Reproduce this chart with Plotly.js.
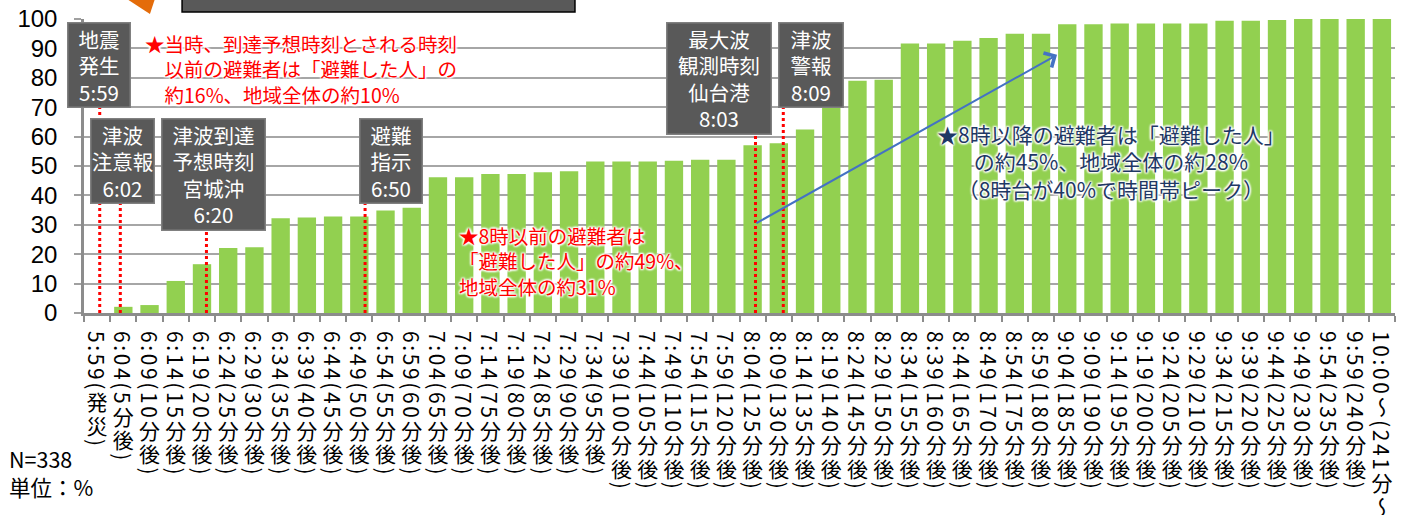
<!DOCTYPE html>
<html>
<head>
<meta charset="utf-8">
<script src="https://cdn.plot.ly/plotly-3.0.1.min.js"></script>
<style>
  html, body { margin: 0; padding: 0; background: #fff; }
  #chart { width: 1410px; height: 515px; }
</style>
</head>
<body>
<div id="chart"></div>
<script>
// ---- data ----
const times = ["5:59","6:04","6:09","6:14","6:19","6:24","6:29","6:34","6:39","6:44","6:49","6:54","6:59",
  "7:04","7:09","7:14","7:19","7:24","7:29","7:34","7:39","7:44","7:49","7:54","7:59",
  "8:04","8:09","8:14","8:19","8:24","8:29","8:34","8:39","8:44","8:49","8:54","8:59",
  "9:04","9:09","9:14","9:19","9:24","9:29","9:34","9:39","9:44","9:49","9:54","9:59","10:00～"];
const elapsed = ["発災","5分後","10分後","15分後","20分後","25分後","30分後","35分後","40分後","45分後","50分後","55分後","60分後",
  "65分後","70分後","75分後","80分後","85分後","90分後","95分後","100分後","105分後","110分後","115分後","120分後",
  "125分後","130分後","135分後","140分後","145分後","150分後","155分後","160分後","165分後","170分後","175分後","180分後",
  "185分後","190分後","195分後","200分後","205分後","210分後","215分後","220分後","225分後","230分後","235分後","240分後","241分～"];
const cumulative = [0, 2.1, 2.7, 10.9, 16.6, 22.1, 22.4, 32.2, 32.5, 32.8, 32.8, 34.9, 35.8,
  46.2, 46.2, 47.3, 47.3, 47.9, 48.2, 51.5, 51.5, 51.5, 51.8, 52.1, 52.1,
  57.1, 57.7, 62.4, 70.7, 79.0, 79.3, 91.7, 91.7, 92.6, 93.5, 95.0, 95.0,
  98.2, 98.2, 98.5, 98.5, 98.5, 98.5, 99.4, 99.4, 99.7, 100, 100, 100, 100];
const categories = times.map((t, i) => t + "(" + elapsed[i] + ")");

// events: label, position on category axis, line top (value)
const eventLabels = ["地震<br>発生<br>5:59", "津波<br>注意報<br>6:02", "津波到達<br>予想時刻<br>宮城沖<br>6:20",
  "避難<br>指示<br>6:50", "最大波<br>観測時刻<br>仙台港<br>8:03", "津波<br>警報<br>8:09"];
const eventLineX = [0.10, 0.885, 4.17, 10.22, 25.11, 26.17];
const eventLineTop = [72.5, 40.2, 31.4, 40.2, 63.6, 72.5];
const boxX = [0.09, 0.95, 4.42, 11.19, 23.70, 27.21];
const boxTop = [99.0, 66.4, 66.4, 66.4, 99.0, 99.0];
const boxW = [61, 62, 102, 61, 103, 63];

const JP = '"Noto Sans CJK JP", "Noto Sans", sans-serif';
const glow = "0 0 2px #fff, 0 0 3px #fff, 1px 1px 2px #fff, -1px -1px 2px #fff, 1px -1px 2px #fff, -1px 1px 2px #fff";

const trace = {
  type: 'bar',
  x: categories,
  y: cumulative,
  marker: { color: '#92d050', line: { width: 0 } },
  hoverinfo: 'x+y'
};

const shapes = [];
eventLineX.forEach((x, i) => {
  shapes.push({ type: 'line', xref: 'x', yref: 'y', x0: x, x1: x, y0: 0, y1: eventLineTop[i],
    line: { color: '#ff0000', width: 3, dash: '3px,3px' }, layer: 'above' });
});
// cropped decorations along the top edge
shapes.push({ type: 'path', xref: 'paper', yref: 'paper',
  path: 'M 0.0252 1.09 L 0.0557 1.09 L 0.0503 1.017 Z', fillcolor: '#e46c0a', line: { width: 0 } });
shapes.push({ type: 'rect', xref: 'paper', yref: 'paper', x0: 0.0748, x1: 0.3745, y0: 1.0238, y1: 1.09,
  fillcolor: '#595959', line: { color: '#000000', width: 1.5 } });

const annotations = [];
eventLabels.forEach((t, i) => {
  annotations.push({ xref: 'x', yref: 'y', x: boxX[i], y: boxTop[i], xanchor: 'center', yanchor: 'top',
    text: t, showarrow: false, align: 'center', width: boxW[i],
    font: { family: JP, size: 20.5, color: '#ffffff' },
    bgcolor: '#595959', bordercolor: '#808080', borderwidth: 1.5, borderpad: 0 });
});
annotations.push({ xref: 'x', yref: 'y', x: 1.75, y: 97.3, xanchor: 'left', yanchor: 'top', showarrow: false, align: 'left',
  text: '★当時、到達予想時刻とされる時刻<br>　以前の避難者は「避難した人」の<br>　約16%、地域全体の約10%',
  font: { family: JP, size: 19.5, color: '#ff0000', shadow: glow } });
annotations.push({ xref: 'x', yref: 'y', x: 13.73, y: 32.0, xanchor: 'left', yanchor: 'top', showarrow: false, align: 'left',
  text: '★8時以前の避難者は<br>「避難した人」の約49%、<br>地域全体の約31%',
  font: { family: JP, size: 19.5, color: '#ff0000', shadow: glow } });
annotations.push({ xref: 'x', yref: 'y', x: 38.67, y: 66.6, xanchor: 'center', yanchor: 'top', showarrow: false, align: 'center',
  text: '★8時以降の避難者は「避難した人」<br>の約45%、地域全体の約28%<br>（8時台が40%で時間帯ピーク）',
  font: { family: JP, size: 21, color: '#1f3864', shadow: glow } });
annotations.push({ xref: 'x', yref: 'y', axref: 'x', ayref: 'y', x: 36.61, y: 87.8, ax: 25.09, ay: 30.3,
  text: '', showarrow: true, arrowhead: 4, arrowsize: 1.6, arrowwidth: 2, arrowcolor: '#4472c4' });
annotations.push({ xref: 'paper', yref: 'paper', x: -0.0587, y: -0.543, xanchor: 'left', yanchor: 'middle',
  showarrow: false, align: 'left', text: 'N=338<br>単位：%',
  font: { family: JP, size: 21.5, color: '#000000' } });

const layout = {
  width: 1410, height: 515,
  margin: { l: 84, r: 15, t: 19, b: 202 },
  paper_bgcolor: '#ffffff', plot_bgcolor: '#ffffff',
  showlegend: false,
  bargap: 0.3,
  xaxis: {
    type: 'category', automargin: false,
    tickmode: 'linear', dtick: 1, tick0: 0,
    tickangle: 90, tickson: 'boundaries',
    ticks: 'outside', ticklen: 6, tickwidth: 2, tickcolor: '#8c8c8c',
    showline: true, linecolor: '#8c8c8c', linewidth: 2.5,
    showgrid: false,
    tickfont: { family: JP, size: 21, color: '#000000' },
    range: [-0.5, 49.5]
  },
  yaxis: {
    range: [0, 100], dtick: 10, tick0: 0, automargin: false,
    ticks: 'outside', ticklen: 7, tickwidth: 2, tickcolor: '#a0a0a0',
    showline: true, linecolor: '#8c8c8c', linewidth: 2.5,
    showgrid: true, gridcolor: '#a6a6a6', gridwidth: 1.5, zeroline: false,
    ticklabelstandoff: 12,
    tickfont: { family: '"Liberation Sans", Arial, sans-serif', size: 24, color: '#000000' }
  },
  shapes: shapes,
  annotations: annotations
};

const gd = document.getElementById('chart');
function verticalTicks() {
  const xa = gd._fullLayout.xaxis;
  const texts = gd.querySelectorAll('.xaxislayer-above .xtick text');
  texts.forEach((t, i) => {
    const d = t.__data__;
    const v = (d && typeof d.x === 'number') ? d.x : i;
    const cx = xa._offset + xa.l2p(v);
    t.setAttribute('transform', 'translate(' + cx + ',331)');
    t.setAttribute('x', 0);
    t.setAttribute('y', 0);
    t.setAttribute('text-anchor', 'start');
    t.style.writingMode = 'vertical-rl';
    t.style.textOrientation = 'mixed';
    t.style.letterSpacing = '2.6px';
  });
}
Plotly.newPlot(gd, [trace], layout, { displayModeBar: false, responsive: false }).then(() => {
  verticalTicks();
  gd.on('plotly_afterplot', verticalTicks);
});
</script>
</body>
</html>
